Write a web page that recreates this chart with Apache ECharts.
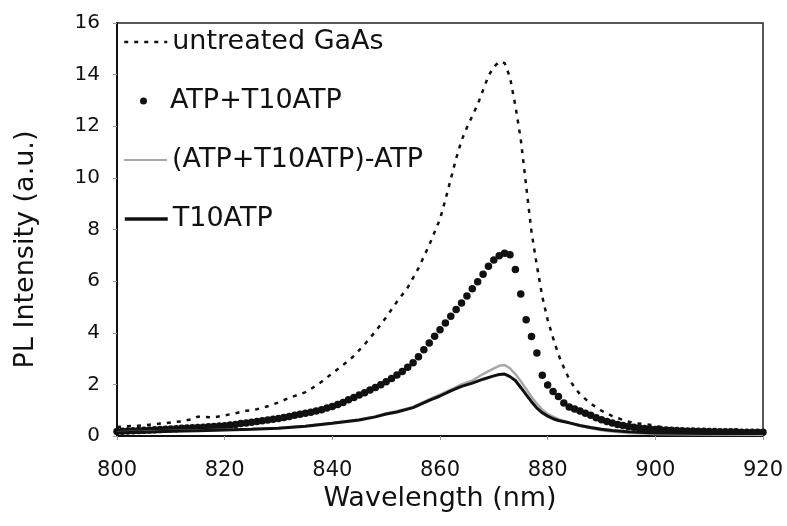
<!DOCTYPE html>
<html>
<head>
<meta charset="utf-8">
<script src="https://cdn.jsdelivr.net/npm/echarts@6/dist/echarts.min.js"></script>
<style>html,body{margin:0;padding:0;background:#fff}#c{width:787px;height:526px}</style>
</head>
<body>
<div id="c"></div>
<script>
// X tick labels
const xTicks = [800, 820, 840, 860, 880, 900, 920];
const yTicks = [0, 2, 4, 6, 8, 10, 12, 14, 16];

// untreated GaAs (dashed)
const untreatedX = [800,802,804,806,808,810,812,814,815,816,818,820,822,824,825,826,828,830,832,834,835,836,838,840,842,844,846,848,850,852,854,856,858,859,860,861,862,863,864,865,866,867,868,869,870,871,872,873,874,875,876,877,878,879,880,881,882,883,884,885,886,888,890,892,894,896,898,900,902,904,906,908,910,915,920];
const untreatedY = [0.35,0.38,0.4,0.44,0.48,0.52,0.57,0.65,0.75,0.74,0.72,0.8,0.88,0.98,1.0,1.04,1.15,1.3,1.48,1.62,1.7,1.82,2.1,2.43,2.75,3.1,3.55,4.05,4.6,5.2,5.75,6.5,7.4,7.9,8.4,9.15,9.95,10.75,11.45,11.95,12.4,12.85,13.4,13.95,14.3,14.5,14.45,13.9,12.8,11.5,9.7,7.9,6.6,5.4,4.5,3.8,3.15,2.65,2.2,1.88,1.62,1.25,0.98,0.77,0.62,0.5,0.46,0.4,0.3,0.24,0.2,0.17,0.15,0.12,0.1];

// ATP+T10ATP (dots, 1 nm steps 800..920)
const atpY = [0.17,0.18,0.19,0.2,0.21,0.22,0.23,0.24,0.25,0.26,
  0.27,0.28,0.3,0.31,0.32,0.33,0.34,0.36,0.37,0.39,
  0.4,0.43,0.45,0.48,0.5,0.53,0.56,0.59,0.62,0.65,
  0.68,0.72,0.76,0.8,0.84,0.88,0.92,0.97,1.02,1.08,
  1.14,1.22,1.3,1.4,1.49,1.59,1.68,1.78,1.88,1.99,
  2.1,2.23,2.36,2.5,2.66,2.84,3.07,3.34,3.6,3.86,
  4.12,4.38,4.64,4.9,5.15,5.42,5.7,5.98,6.27,6.58,
  6.82,6.98,7.08,7.02,6.45,5.5,4.5,3.85,3.22,2.35,
  1.98,1.72,1.53,1.28,1.12,1.05,0.97,0.88,0.8,0.71,
  0.63,0.56,0.5,0.45,0.41,0.37,0.34,0.31,0.29,0.27,
  0.25,0.24,0.23,0.22,0.21,0.2,0.19,0.19,0.18,0.18,
  0.17,0.17,0.16,0.16,0.16,0.16,0.15,0.15,0.15,0.15,0.15];
const atpX = atpY.map((v, i) => 800 + i);

// (ATP+T10ATP)-ATP (grey line)
const diffX = [800,805,810,815,820,825,830,835,840,845,848,850,852,855,858,860,862,864,866,868,870,871,872,873,874,875,876,877,878,879,880,882,884,886,888,890,892,895,900,910,920];
const diffY = [0.15,0.16,0.19,0.21,0.24,0.27,0.31,0.39,0.5,0.64,0.76,0.87,0.96,1.13,1.42,1.6,1.8,2.0,2.15,2.4,2.62,2.72,2.75,2.62,2.4,2.12,1.82,1.52,1.25,1.02,0.85,0.65,0.52,0.4,0.3,0.22,0.17,0.12,0.08,0.06,0.05];

// T10ATP (black line)
const t10X = [800,805,810,815,820,825,830,835,840,845,848,850,852,855,858,860,862,864,866,868,870,871,872,873,874,875,876,877,878,879,880,881,882,884,886,888,890,892,895,900,910,920];
const t10Y = [0.13,0.15,0.18,0.2,0.23,0.26,0.3,0.38,0.49,0.62,0.74,0.85,0.93,1.1,1.38,1.55,1.75,1.92,2.05,2.2,2.33,2.38,2.4,2.3,2.15,1.88,1.6,1.33,1.08,0.9,0.77,0.67,0.6,0.51,0.41,0.33,0.26,0.21,0.16,0.12,0.1,0.1];

const zip = (xs, ys) => xs.map((x, i) => [x, ys[i]]);
const FONT = 'DejaVu Sans';
const names = ['untreated GaAs', 'ATP+T10ATP', '(ATP+T10ATP)-ATP', 'T10ATP'];
const legendCenters = [42, 101, 160, 219];

function mkLegend(i, left, w, h, extra) {
  return Object.assign({
    data: [names[i]],
    left: left, top: legendCenters[i] - 15, padding: 0,
    itemWidth: w, itemHeight: h,
    selectedMode: false,
    textStyle: { fontFamily: FONT, fontSize: 27, color: '#111', lineHeight: 30 }
  }, extra || {});
}

const chart = echarts.init(document.getElementById('c'), null, { renderer: 'canvas' });
chart.setOption({
  animation: false,
  backgroundColor: '#fff',
  grid: { left: 117, right: 24, top: 23, bottom: 90, show: true, borderColor: '#222', borderWidth: 1.5, backgroundColor: 'transparent' },
  legend: [
    mkLegend(0, 123, 43, 14, { itemStyle: { opacity: 0 }, lineStyle: { width: 2.5 } }),
    mkLegend(1, 140, 43, 7, { data: [{ name: names[1], icon: 'circle' }] }),
    mkLegend(2, 123, 43, 14, { itemStyle: { opacity: 0 }, lineStyle: { width: 2 } }),
    mkLegend(3, 123, 43, 14, { itemStyle: { opacity: 0 }, lineStyle: { width: 3.5 } })
  ],
  xAxis: {
    type: 'value', min: 800, max: 920, interval: 20,
    name: 'Wavelength (nm)', nameLocation: 'middle', nameGap: 48,
    nameTextStyle: { fontFamily: FONT, fontSize: 27, color: '#111' },
    axisLine: { show: true, onZero: false, lineStyle: { color: '#111', width: 2 } },
    axisTick: { show: true, length: 4, lineStyle: { color: '#999' } },
    axisLabel: { fontFamily: FONT, fontSize: 21, color: '#111', margin: 24,
      formatter: v => xTicks.includes(v) ? String(v) : '' },
    splitLine: { show: false }
  },
  yAxis: {
    type: 'value', min: 0, max: 16, interval: 2,
    name: 'PL Intensity (a.u.)', nameLocation: 'middle', nameGap: 78,
    nameTextStyle: { fontFamily: FONT, fontSize: 27, color: '#111', padding: [0, 40, 0, 0] },
    axisLine: { show: true, lineStyle: { color: '#111', width: 2 } },
    axisTick: { show: true, length: 4, lineStyle: { color: '#999' } },
    axisLabel: { fontFamily: FONT, fontSize: 20, color: '#111', margin: 17,
      formatter: v => yTicks.includes(v) ? String(v) : '' },
    splitLine: { show: false }
  },
  series: [
    { name: names[0], type: 'line', data: zip(untreatedX, untreatedY), symbol: 'none', smooth: false,
      lineStyle: { color: '#111', width: 2.5, type: [4, 6] }, itemStyle: { color: '#111' }, z: 2 },
    { name: names[1], type: 'scatter', data: zip(atpX, atpY), symbol: 'circle', symbolSize: 7.5,
      itemStyle: { color: '#111', opacity: 1 }, z: 3 },
    { name: names[2], type: 'line', data: zip(diffX, diffY), symbol: 'none',
      lineStyle: { color: '#a8a8a8', width: 2.5 }, itemStyle: { color: '#a8a8a8' }, z: 4 },
    { name: names[3], type: 'line', data: zip(t10X, t10Y), symbol: 'none',
      lineStyle: { color: '#111', width: 3 }, itemStyle: { color: '#111' }, z: 5 }
  ]
});
</script>
</body>
</html>
